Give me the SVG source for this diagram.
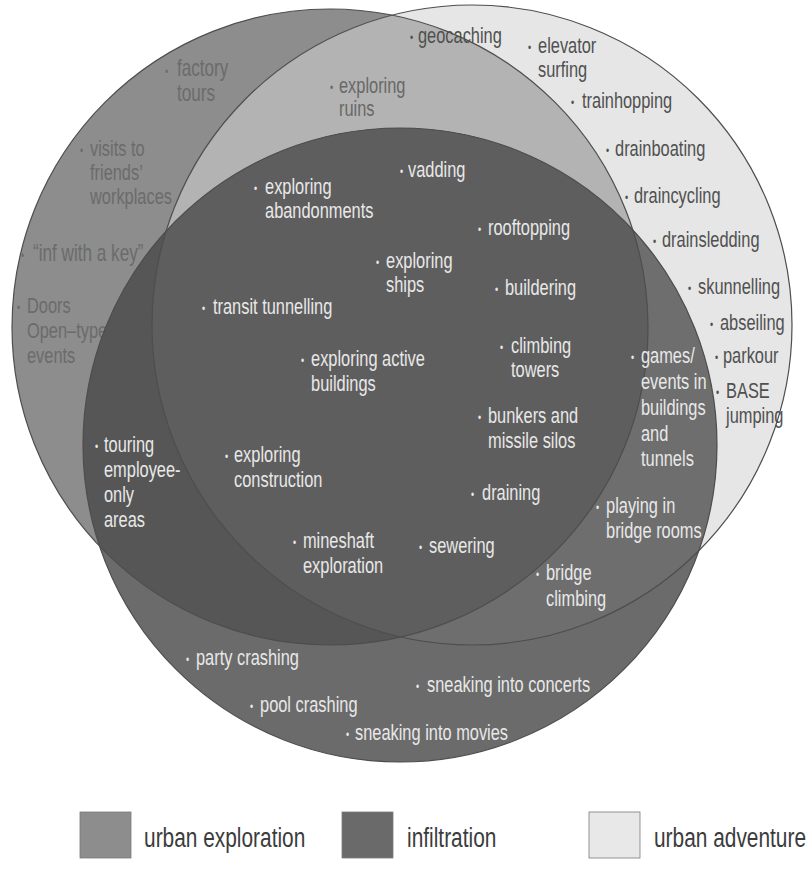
<svg xmlns="http://www.w3.org/2000/svg" width="807" height="877" viewBox="0 0 807 877">
<style>
.t{font-family:'Liberation Sans',Arial,sans-serif;font-size:22px}
.b{font-size:12px}
.md{fill:#6b6b6b}
.mr{fill:#686868}
.dk{fill:#505050}
.lt{fill:#e8e8e8}
.edge{fill:none;stroke:#4e4e4e;stroke-width:1.2}
.lg{font-family:'Liberation Sans',Arial,sans-serif;font-size:28px;fill:#3c3c3c}
.sw{stroke:#7a7a7a;stroke-width:0.8}
</style>
<defs>
<clipPath id="cUE"><circle cx="330" cy="327" r="318"/></clipPath>
<clipPath id="cUA"><circle cx="472" cy="325" r="320"/></clipPath>
</defs>
<rect width="807" height="877" fill="#ffffff"/>
<g id="urban-exploration">
<circle cx="330" cy="327" r="318" fill="#8d8d8d"/>
<g transform="scale(0.7455 1)">
<text class="t md" style="font-size:23px"><tspan class="b" x="221.3" y="76">•</tspan><tspan x="237.4" y="76">factory</tspan><tspan x="237.4" y="101">tours</tspan></text>
<text class="t md"><tspan class="b" x="107.3" y="155">•</tspan><tspan x="120.7" y="156">visits to</tspan><tspan x="120.7" y="180">friends’</tspan><tspan x="120.7" y="204">workplaces</tspan></text>
<text class="t md" style="font-size:23px"><tspan class="b" x="28.2" y="260">•</tspan><tspan x="44.3" y="261">“inf with a key”</tspan></text>
<text class="t md"><tspan class="b" x="22.8" y="312">•</tspan><tspan x="36.2" y="313">Doors</tspan><tspan x="36.2" y="338">Open–type</tspan><tspan x="36.2" y="363">events</tspan></text>
</g>
</g>
<g id="urban-adventure">
<circle cx="472" cy="325" r="320" fill="#e6e6e6"/>
</g>
<g id="ue-ua-overlap">
<circle cx="472" cy="325" r="320" fill="#b3b3b3" clip-path="url(#cUE)"/>
</g>
<g id="infiltration">
<circle cx="400" cy="445" r="317" fill="#6b6b6b"/>
<circle cx="400" cy="445" r="317" fill="#565656" clip-path="url(#cUE)"/>
<circle cx="400" cy="445" r="317" fill="#6e6e6e" clip-path="url(#cUA)"/>
<g clip-path="url(#cUE)"><circle cx="400" cy="445" r="317" fill="#5e5e5e" clip-path="url(#cUA)"/></g>
</g>
<g id="outlines">
<circle class="edge" cx="330" cy="327" r="318"/>
<circle class="edge" cx="472" cy="325" r="320"/>
<circle class="edge" cx="400" cy="445" r="317"/>
</g>
<g id="labels-ue-ua" transform="scale(0.7455 1)">
<text class="t mr"><tspan class="b" x="442.7" y="92">•</tspan><tspan x="454.7" y="93">exploring</tspan><tspan x="454.7" y="116">ruins</tspan></text>
<text class="t dk"><tspan class="b" x="550" y="42">•</tspan><tspan x="560.7" y="43">geocaching</tspan></text>
</g>
<g id="labels-ua" transform="scale(0.7455 1)">
<text class="t dk"><tspan class="b" x="708.3" y="52">•</tspan><tspan x="721.7" y="53">elevator</tspan><tspan x="721.7" y="77">surfing</tspan></text>
<text class="t dk"><tspan class="b" x="765.9" y="107">•</tspan><tspan x="780.7" y="108">trainhopping</tspan></text>
<text class="t dk"><tspan class="b" x="812.9" y="155">•</tspan><tspan x="825" y="156">drainboating</tspan></text>
<text class="t dk"><tspan class="b" x="838.4" y="202">•</tspan><tspan x="850.4" y="203">draincycling</tspan></text>
<text class="t dk"><tspan class="b" x="875.9" y="246">•</tspan><tspan x="888" y="247">drainsledding</tspan></text>
<text class="t dk"><tspan class="b" x="922.9" y="293">•</tspan><tspan x="936.3" y="294">skunnelling</tspan></text>
<text class="t dk"><tspan class="b" x="952.4" y="329">•</tspan><tspan x="965.8" y="330">abseiling</tspan></text>
<text class="t dk"><tspan class="b" x="959.1" y="362">•</tspan><tspan x="969.8" y="363">parkour</tspan></text>
<text class="t dk"><tspan class="b" x="960.4" y="397">•</tspan><tspan x="973.9" y="398">BASE</tspan><tspan x="973.9" y="423">jumping</tspan></text>
</g>
<g id="labels-infiltration" transform="scale(0.7455 1)">
<text class="t lt"><tspan class="b" x="340.7" y="193">•</tspan><tspan x="355.5" y="194">exploring</tspan><tspan x="355.5" y="218">abandonments</tspan></text>
<text class="t lt"><tspan class="b" x="536.6" y="176">•</tspan><tspan x="547.3" y="177">vadding</tspan></text>
<text class="t lt"><tspan class="b" x="641.2" y="234">•</tspan><tspan x="654.6" y="235">rooftopping</tspan></text>
<text class="t lt"><tspan class="b" x="504.4" y="267">•</tspan><tspan x="517.8" y="268">exploring</tspan><tspan x="517.8" y="292">ships</tspan></text>
<text class="t lt"><tspan class="b" x="664" y="294">•</tspan><tspan x="677.4" y="295">buildering</tspan></text>
<text class="t lt"><tspan class="b" x="271" y="313">•</tspan><tspan x="285.7" y="314">transit tunnelling</tspan></text>
<text class="t lt"><tspan class="b" x="403.8" y="365">•</tspan><tspan x="417.2" y="366">exploring active</tspan><tspan x="417.2" y="391">buildings</tspan></text>
<text class="t lt"><tspan class="b" x="670.7" y="352">•</tspan><tspan x="685.5" y="353">climbing</tspan><tspan x="685.5" y="377">towers</tspan></text>
<text class="t lt"><tspan class="b" x="846.4" y="362">•</tspan><tspan x="859.8" y="363">games/</tspan><tspan x="859.8" y="389">events in</tspan><tspan x="859.8" y="415">buildings</tspan><tspan x="859.8" y="441">and</tspan><tspan x="859.8" y="466">tunnels</tspan></text>
<text class="t lt"><tspan class="b" x="641.2" y="422">•</tspan><tspan x="654.6" y="423">bunkers and</tspan><tspan x="654.6" y="448">missile silos</tspan></text>
<text class="t lt"><tspan class="b" x="127.4" y="451">•</tspan><tspan x="139.5" y="452">touring</tspan><tspan x="139.5" y="477">employee-</tspan><tspan x="139.5" y="502">only</tspan><tspan x="139.5" y="527">areas</tspan></text>
<text class="t lt"><tspan class="b" x="301.8" y="461">•</tspan><tspan x="313.9" y="462">exploring</tspan><tspan x="313.9" y="487">construction</tspan></text>
<text class="t lt"><tspan class="b" x="631.8" y="499">•</tspan><tspan x="646.6" y="500">draining</tspan></text>
<text class="t lt"><tspan class="b" x="799.5" y="512">•</tspan><tspan x="812.9" y="513">playing in</tspan><tspan x="812.9" y="538">bridge rooms</tspan></text>
<text class="t lt"><tspan class="b" x="393" y="547">•</tspan><tspan x="406.4" y="548">mineshaft</tspan><tspan x="406.4" y="573">exploration</tspan></text>
<text class="t lt"><tspan class="b" x="562.1" y="552">•</tspan><tspan x="575.5" y="553">sewering</tspan></text>
<text class="t lt"><tspan class="b" x="719" y="579">•</tspan><tspan x="732.4" y="580">bridge</tspan><tspan x="732.4" y="606">climbing</tspan></text>
<text class="t lt"><tspan class="b" x="249.5" y="664">•</tspan><tspan x="262.9" y="665">party crashing</tspan></text>
<text class="t lt"><tspan class="b" x="558" y="691">•</tspan><tspan x="572.8" y="692">sneaking into concerts</tspan></text>
<text class="t lt"><tspan class="b" x="335.4" y="711">•</tspan><tspan x="348.8" y="712">pool crashing</tspan></text>
<text class="t lt"><tspan class="b" x="464.1" y="739">•</tspan><tspan x="476.2" y="740">sneaking into movies</tspan></text>
</g>
<g id="legend">
<rect class="sw" x="80" y="812" width="51" height="46" fill="#8d8d8d"/>
<rect class="sw" x="342" y="812" width="51" height="46" fill="#6a6a6a"/>
<rect class="sw" x="589" y="812" width="51" height="46" fill="#e8e8e8"/>
<g transform="scale(0.7455 1)">
<text class="lg" x="193.2" y="847">urban exploration</text>
<text class="lg" x="546" y="847">infiltration</text>
<text class="lg" x="877.3" y="847">urban adventure</text>
</g>
</g>
</svg>
